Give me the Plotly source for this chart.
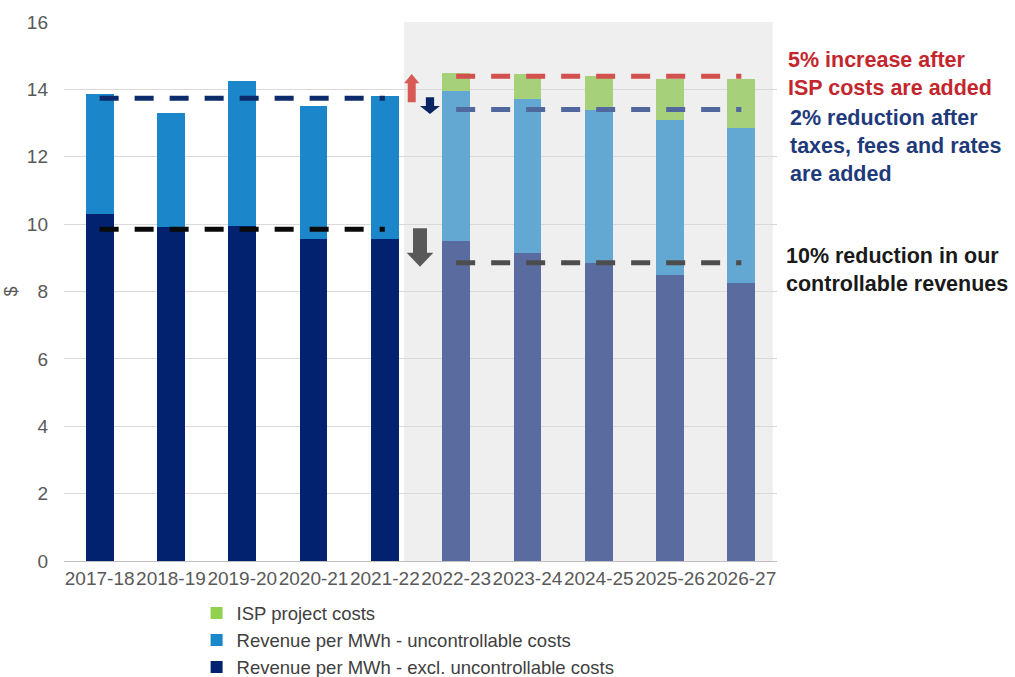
import numpy as np
import plotly.graph_objects as go

# ---------------- data ----------------
years = ["2017-18", "2018-19", "2019-20", "2020-21", "2021-22",
         "2022-23", "2023-24", "2024-25", "2025-26", "2026-27"]
n_hist = 5  # first five years are actuals, the rest forecast

# Revenue per MWh - excl. uncontrollable costs ($)
rev_excl = [10.3, 9.9, 9.95, 9.55, 9.55, 9.5, 9.15, 8.85, 8.5, 8.25]
# Revenue per MWh - uncontrollable costs ($, stacked on top)
rev_unctrl = [3.55, 3.4, 4.3, 3.95, 4.25, 4.45, 4.55, 4.55, 4.6, 4.6]
# ISP project costs ($, stacked on top, forecast years only)
isp_costs = [None, None, None, None, None, 0.55, 0.75, 1.0, 1.2, 1.45]

series_names = ["Revenue per MWh - excl. uncontrollable costs",
                "Revenue per MWh - uncontrollable costs",
                "ISP project costs"]
y_ticks = [0, 2, 4, 6, 8, 10, 12, 14, 16]

notes = ["5% increase after<br>ISP costs are added",
         "2% reduction after<br>taxes, fees and rates<br>are added",
         "10% reduction in our<br>controllable revenues"]

# ---------------- derived averages (dashed reference lines) ----------------
hist_excl_avg = float(np.mean(rev_excl[:n_hist]))
hist_total_avg = float(np.mean([a + b for a, b in zip(rev_excl[:n_hist], rev_unctrl[:n_hist])]))
fc_excl_avg = float(np.mean(rev_excl[n_hist:]))
fc_mid_avg = float(np.mean([a + b for a, b in zip(rev_excl[n_hist:], rev_unctrl[n_hist:])]))
fc_total_avg = float(np.mean([a + b + c for a, b, c in zip(rev_excl[n_hist:], rev_unctrl[n_hist:], isp_costs[n_hist:])]))

# ---------------- styles ----------------
FONT = "Liberation Sans, Arial, sans-serif"
navy_hist, navy_fc = "#022270", "#5A6B9F"
blue_hist, blue_fc = "#1B87CA", "#63A7D3"
green_legend, green_fc = "#92D050", "#A6D07A"
n_fc = len(years) - n_hist

fig = go.Figure()
bar_w = 0.39
fig.add_trace(go.Bar(x=years, y=rev_excl, name=series_names[0], width=bar_w,
                     marker=dict(color=[navy_hist] * n_hist + [navy_fc] * n_fc, line=dict(width=0)),
                     legendrank=3))
fig.add_trace(go.Bar(x=years, y=rev_unctrl, name=series_names[1], width=bar_w,
                     marker=dict(color=[blue_hist] * n_hist + [blue_fc] * n_fc, line=dict(width=0)),
                     legendrank=2))
fig.add_trace(go.Bar(x=years, y=isp_costs, name=series_names[2], width=bar_w,
                     marker=dict(color=[green_legend] * n_hist + [green_fc] * n_fc, line=dict(width=0)),
                     legendrank=1))

dash = "19px,16px"
def ref_line(xs, yv, color):
    fig.add_trace(go.Scatter(x=[xs[0], xs[-1]], y=[yv, yv], mode="lines",
                             line=dict(color=color, width=5, dash=dash),
                             showlegend=False, hoverinfo="skip"))

ref_line(years[:n_hist], hist_total_avg, "#0D2A6B")
ref_line(years[:n_hist], hist_excl_avg, "#0A0A0A")
ref_line(years[n_hist:], fc_total_avg, "#D2504E")
ref_line(years[n_hist:], fc_mid_avg, "#50689E")
ref_line(years[n_hist:], fc_excl_avg, "#4D4D4D")

shapes = []
# forecast shading
shapes.append(dict(type="rect", xref="x", yref="y", x0=4.27, x1=9.44, y0=0, y1=16,
                   fillcolor="#EFEFEF", line=dict(width=0), layer="below"))

def block_arrow(cx, y_tail, y_base, y_tip, shaft_hw, head_hw, color):
    p = (f"M {cx - shaft_hw},{y_tail} L {cx + shaft_hw},{y_tail} L {cx + shaft_hw},{y_base} "
         f"L {cx + head_hw},{y_base} L {cx},{y_tip} L {cx - head_hw},{y_base} "
         f"L {cx - shaft_hw},{y_base} Z")
    return dict(type="path", xref="x", yref="y", path=p, fillcolor=color,
                line=dict(width=0), layer="above")

shapes.append(block_arrow(4.377, 13.615, 14.18, 14.455, 0.056, 0.107, "#D85A55"))
shapes.append(block_arrow(4.633, 13.764, 13.506, 13.27, 0.058, 0.14, "#0B2463"))
shapes.append(block_arrow(4.493, 9.875, 9.151, 8.736, 0.098, 0.187, "#595959"))

annotations = [
    dict(text=notes[0], xref="paper", yref="paper", x=1.012, y=0.903, xanchor="left",
         yanchor="middle", align="left", showarrow=False,
         font=dict(family=FONT, size=21.5, color="#C4262E", weight="bold")),
    dict(text=notes[1], xref="paper", yref="paper", x=1.015, y=0.770, xanchor="left",
         yanchor="middle", align="left", showarrow=False,
         font=dict(family=FONT, size=21.5, color="#1F3A7A", weight="bold")),
    dict(text=notes[2], xref="paper", yref="paper", x=1.01, y=0.539, xanchor="left",
         yanchor="middle", align="left", showarrow=False,
         font=dict(family=FONT, size=21.5, color="#1A1A1A", weight="bold")),
]

fig.update_layout(
    width=1015, height=677,
    margin=dict(l=64, r=238, t=22, b=116, autoexpand=False),
    paper_bgcolor="white", plot_bgcolor="white",
    barmode="stack", bargap=0.6,
    shapes=shapes, annotations=annotations,
    font=dict(family=FONT, color="#595959"),
    legend=dict(x=0.186, y=-0.062, xanchor="left", yanchor="top",
                traceorder="normal", itemclick=False,
                font=dict(family=FONT, size=18.5, color="#404040"),
                bgcolor="rgba(0,0,0,0)"),
    showlegend=True,
)
fig.update_xaxes(type="category", tickfont=dict(size=19, color="#595959"),
                 showline=True, linecolor="#BFBFBF", linewidth=1, showgrid=False,
                 ticks="", tickangle=0, automargin=False, range=[-0.5, 9.5])
fig.update_yaxes(range=[0, 16], tickvals=y_ticks, tickfont=dict(size=19, color="#595959"),
                 gridcolor="#D9D9D9", gridwidth=1, zeroline=False, showline=False,
                 ticks="", ticklabelstandoff=15, automargin=False,
                 title=dict(text="$", font=dict(size=18, color="#595959"), standoff=4))

fig.write_html("out.html")
